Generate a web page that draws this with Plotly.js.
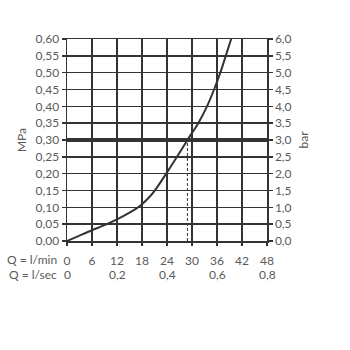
<!DOCTYPE html>
<html>
<head>
<meta charset="utf-8">
<script src="https://cdn.plot.ly/plotly-3.0.1.min.js"></script>
<style>html,body{margin:0;padding:0;background:#fff;}#chart{width:350px;height:350px;}</style>
</head>
<body>
<div id="chart"></div>
<script>
// Flow (l/min) vs pressure (MPa)
const flowLmin = [0, 3, 6, 9, 12, 15, 17.5, 19.5, 21.2, 23.8, 26.4, 28.9, 31.5, 33.6, 35.3, 36.8, 38.1, 39.4];
const pressureMPa = [0, 0.016, 0.032, 0.047, 0.064, 0.084, 0.104, 0.127, 0.152, 0.20, 0.25, 0.30, 0.35, 0.40, 0.45, 0.50, 0.55, 0.60];
const refPressure = 0.30;
const refFlow = 28.9;
const xTicks = [0, 6, 12, 18, 24, 30, 36, 42, 48];
const secTickPos = [0, 12, 24, 36, 48];
const secTickLabels = ['0', '0,2', '0,4', '0,6', '0,8'];

const ink = '#333333';
const txt = '#5a5a5a';
const fnt = {family: 'Lato, "Open Sans", sans-serif', size: 12, color: txt};

const traces = [
  {x: [0, 48], y: [refPressure, refPressure], mode: 'lines', line: {color: ink, width: 4}, hoverinfo: 'skip'},
  {x: [refFlow, refFlow], y: [0, refPressure], mode: 'lines', line: {color: ink, width: 1, dash: '3px,2px'}, hoverinfo: 'skip'},
  {x: flowLmin, y: pressureMPa, mode: 'lines', line: {color: ink, width: 2, shape: 'spline', smoothing: 0.8}},
  {x: [0], y: [0], yaxis: 'y2', mode: 'markers', marker: {opacity: 0}, hoverinfo: 'skip'}
];

const annotations = [
  {xref: 'paper', yref: 'paper', x: 0, y: 0, xanchor: 'right', yanchor: 'middle', xshift: -8, yshift: -18, text: 'Q = l/min', showarrow: false, font: fnt},
  {xref: 'paper', yref: 'paper', x: 0, y: 0, xanchor: 'right', yanchor: 'middle', xshift: -8, yshift: -33, text: 'Q = l/sec', showarrow: false, font: fnt}
];
secTickPos.forEach((p, i) => {
  annotations.push({xref: 'x', yref: 'paper', x: p, y: 0, xanchor: 'center', yanchor: 'middle', yshift: -33, text: secTickLabels[i], showarrow: false, font: fnt});
});

const layout = {
  width: 350, height: 350,
  margin: {l: 67, r: 83, t: 39, b: 109},
  paper_bgcolor: '#fff', plot_bgcolor: '#fff',
  separators: ',.',
  showlegend: false,
  font: fnt,
  xaxis: {
    range: [0, 48], tickvals: xTicks, ticktext: xTicks.map(String),
    showgrid: true, gridcolor: ink, gridwidth: 1.5,
    showline: true, linecolor: ink, linewidth: 1.5, mirror: true,
    ticks: 'outside', ticklen: 3, tickcolor: ink, tickwidth: 1.5,
    ticklabelstandoff: 5,
    zeroline: false, tickfont: fnt, fixedrange: true
  },
  yaxis: {
    range: [0, 0.6], dtick: 0.05, tick0: 0, tickformat: '.2f',
    showgrid: true, gridcolor: ink, gridwidth: 1.5,
    showline: true, linecolor: ink, linewidth: 1.5,
    ticks: 'outside', ticklen: 4, tickcolor: ink, tickwidth: 1.5,
    zeroline: false, tickfont: fnt,
    title: {text: 'MPa', font: fnt, standoff: 6}
  },
  yaxis2: {
    overlaying: 'y', side: 'right', range: [0, 6], dtick: 0.5, tick0: 0, tickformat: '.1f',
    showgrid: false, showline: true, linecolor: ink, linewidth: 1.5,
    ticks: 'outside', ticklen: 4, tickcolor: ink, tickwidth: 1.5,
    zeroline: false, tickfont: fnt,
    title: {text: 'bar', font: fnt, standoff: 9}
  },
  annotations: annotations
};

Plotly.newPlot('chart', traces, layout, {displayModeBar: false, staticPlot: true});
</script>
</body>
</html>
